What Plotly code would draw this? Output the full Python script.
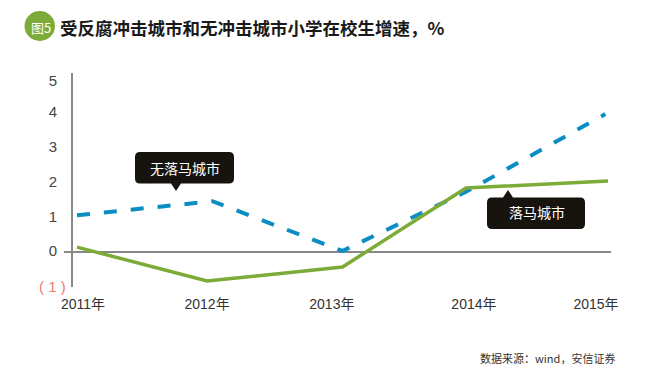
import plotly.graph_objects as go

W, H = 650, 384
PAGE = 8  # default page margin of the browser
L, R, T, B = 64, 611, 73, 287

years = ["2011年", "2012年", "2013年", "2014年", "2015年"]
tick_pos = [2011.045, 2011.98, 2012.92, 2013.99, 2014.91]
blue_x = [2011.0, 2012.02, 2013.0, 2013.93, 2014.98]
blue_y = [1.05, 1.45, 0.03, 1.72, 3.94]
green_x = [2011.0, 2011.98, 2013.0, 2013.93, 2015.0]
green_y = [0.14, -0.83, -0.43, 1.83, 2.03]
y_labels = ["0", "1", "2", "3", "4", "5"]
y_label_pos = [0.04, 1, 2, 3, 4, 4.9]

PX_PER_YEAR = 132.75
x0 = 2011 - (77 - L) / PX_PER_YEAR
x1 = 2011 + (R - 77) / PX_PER_YEAR
PX_PER_UNIT = 35
y_top = (252 - T) / PX_PER_UNIT
y_bot = (252 - B) / PX_PER_UNIT


def px(x):
    return (x - L) / (R - L)


def py(y):
    return (B - y) / (B - T)


def callout(x_a, x_b, y_a, y_b, tip_x, tip_y, up):
    r = 5
    p = []
    def P(cmd, *pts):
        p.append(cmd + " ".join(f"{px(a):.5f},{py(b):.5f}" for a, b in pts))
    P("M", (x_a + r, y_a))
    if up:
        P("L", (tip_x - 5, y_a))
        P("L", (tip_x, tip_y))
        P("L", (tip_x + 5, y_a))
    P("L", (x_b - r, y_a))
    P("Q", (x_b, y_a), (x_b, y_a + r))
    P("L", (x_b, y_b - r))
    P("Q", (x_b, y_b), (x_b - r, y_b))
    if not up:
        P("L", (tip_x + 5, y_b))
        P("L", (tip_x, tip_y))
        P("L", (tip_x - 5, y_b))
    P("L", (x_a + r, y_b))
    P("Q", (x_a, y_b), (x_a, y_b - r))
    P("L", (x_a, y_a + r))
    P("Q", (x_a, y_a), (x_a + r, y_a))
    return dict(type="path", xref="paper", yref="paper", path="".join(p) + "Z",
                fillcolor="#17140f", line=dict(width=0), layer="above")


def label(text, x, y, size, color, anchor="center", family="Noto Sans CJK SC"):
    return dict(text=text, x=px(x), y=py(y), xref="paper", yref="paper", showarrow=False,
                xanchor=anchor, yanchor="middle", font=dict(size=size, color=color, family=family))


fig = go.Figure()
fig.add_trace(go.Scatter(x=blue_x, y=blue_y, mode="lines", showlegend=False,
                         line=dict(color="#0b8dc4", width=4, dash="13px,14px")))
fig.add_trace(go.Scatter(x=green_x, y=green_y, mode="lines", showlegend=False,
                         line=dict(color="#7cab38", width=3.5)))

shapes = [
    dict(type="line", xref="paper", yref="paper", x0=px(72), x1=px(72), y0=0, y1=1,
         line=dict(color="#888888", width=2), layer="below"),
    dict(type="circle", xref="paper", yref="paper", x0=px(24.5), x1=px(55), y0=py(11), y1=py(41),
         fillcolor="#7cab38", line=dict(width=0)),
    callout(135, 234, 152, 183.5, 176, 191, False),
    callout(487, 585, 197.5, 229, 508, 190, True),
]

annotations = [
    label("图5", 41, 27, 13, "#ffffff"),
    label("<b>受反腐冲击城市和无冲击城市小学在校生增速，%</b>", 58, 27, 17.5, "#1a1a1a", "left"),
    label("无落马城市", 185, 168, 14, "#ffffff"),
    label("落马城市", 537, 212, 14, "#ffffff"),
    label("( 1 )", 67.5, 286, 15, "#f07a6a", "right", "Liberation Sans"),
    label("数据来源：wind，安信证券", 617, 358, 11, "#333333", "right"),
]

fig.update_layout(
    width=W - PAGE, height=H - PAGE, autosize=False,
    margin=dict(l=L - PAGE, r=W - R, t=T - PAGE, b=H - B, pad=0),
    paper_bgcolor="white", plot_bgcolor="white",
    shapes=shapes, annotations=annotations,
    xaxis=dict(range=[x0, x1], tickmode="array", tickvals=tick_pos, ticktext=years,
               showgrid=False, zeroline=False, showline=False, ticks="",
               ticklabelstandoff=7,
               tickfont=dict(size=14, color="#333333", family="Liberation Sans, Noto Sans CJK SC")),
    yaxis=dict(range=[y_bot, y_top], tickmode="array", tickvals=y_label_pos,
               ticktext=y_labels,
               showgrid=False, zeroline=True, zerolinecolor="#888888", zerolinewidth=2,
               showline=False, ticks="", ticklabelstandoff=6,
               tickfont=dict(size=15, color="#444444", family="Liberation Sans")),
)

fig.write_html("out.html")
